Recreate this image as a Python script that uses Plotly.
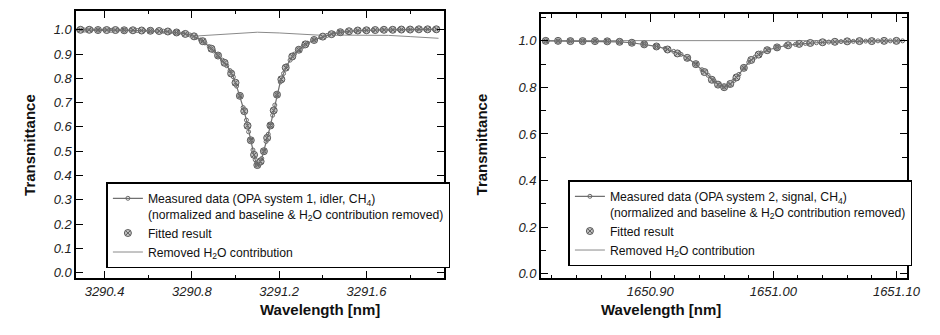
import plotly.graph_objects as go

# ---------------- Left panel data (OPA system 1, idler) ----------------
wl_meas_1 = [3290.28, 3290.31, 3290.34, 3290.37, 3290.40, 3290.43, 3290.46, 3290.49, 3290.52, 3290.55,
             3290.58, 3290.61, 3290.64, 3290.67, 3290.70, 3290.73, 3290.76, 3290.79, 3290.82, 3290.84,
             3290.86, 3290.88, 3290.90, 3290.92, 3290.94, 3290.96, 3290.975, 3290.99, 3291.005, 3291.02,
             3291.035, 3291.05, 3291.06, 3291.07, 3291.08, 3291.09, 3291.10, 3291.11, 3291.12, 3291.13,
             3291.14, 3291.15, 3291.16, 3291.17, 3291.18, 3291.19, 3291.205, 3291.22, 3291.235, 3291.25,
             3291.27, 3291.29, 3291.31, 3291.33, 3291.36, 3291.39, 3291.42, 3291.45, 3291.48, 3291.51,
             3291.55, 3291.59, 3291.63, 3291.67, 3291.71, 3291.75, 3291.79, 3291.83, 3291.87, 3291.91]
tr_meas_1 = [1.000, 0.999, 1.001, 0.999, 1.000, 0.998, 0.999, 0.998, 0.998, 0.997,
             0.997, 0.996, 0.995, 0.994, 0.992, 0.989, 0.985, 0.979, 0.969, 0.958,
             0.946, 0.931, 0.913, 0.894, 0.875, 0.852, 0.832, 0.806, 0.768, 0.728,
             0.680, 0.628, 0.580, 0.545, 0.505, 0.465, 0.443, 0.448, 0.470, 0.500,
             0.540, 0.570, 0.606, 0.648, 0.690, 0.733, 0.785, 0.820, 0.852, 0.875,
             0.900, 0.918, 0.932, 0.945, 0.958, 0.969, 0.977, 0.984, 0.990, 0.993,
             0.996, 0.998, 0.999, 1.000, 1.000, 1.001, 1.001, 1.002, 1.002, 1.002]

wl_fit_1 = [3290.29, 3290.33, 3290.37, 3290.41, 3290.45, 3290.49, 3290.53, 3290.57, 3290.61, 3290.65,
            3290.69, 3290.73, 3290.77, 3290.81, 3290.85, 3290.89, 3290.92, 3290.95, 3290.98, 3291.00,
            3291.02, 3291.04, 3291.055, 3291.07, 3291.085, 3291.10, 3291.115, 3291.13, 3291.145, 3291.16,
            3291.175, 3291.19, 3291.21, 3291.23, 3291.26, 3291.29, 3291.32, 3291.36, 3291.40, 3291.44,
            3291.48, 3291.52, 3291.56, 3291.60, 3291.64, 3291.68, 3291.72, 3291.76, 3291.80, 3291.84,
            3291.88, 3291.92]
tr_fit_1 = [1.000, 1.000, 0.999, 0.999, 0.999, 0.998, 0.998, 0.997, 0.996, 0.995,
            0.993, 0.989, 0.983, 0.973, 0.953, 0.922, 0.894, 0.864, 0.820, 0.782,
            0.728, 0.665, 0.605, 0.545, 0.485, 0.443, 0.458, 0.500, 0.555, 0.606,
            0.668, 0.733, 0.796, 0.844, 0.890, 0.918, 0.940, 0.958, 0.972, 0.982,
            0.990, 0.994, 0.997, 0.998, 0.999, 1.000, 1.000, 1.001, 1.001, 1.002,
            1.002, 1.002]

wl_h2o_1 = [3290.28, 3290.40, 3290.50, 3290.60, 3290.70, 3290.78, 3290.83, 3290.90, 3291.00,
            3291.10, 3291.20, 3291.30, 3291.40, 3291.50, 3291.60, 3291.70, 3291.80, 3291.93]
tr_h2o_1 = [1.000, 1.000, 0.998, 0.995, 0.988, 0.980, 0.975, 0.979, 0.985,
            0.990, 0.987, 0.981, 0.977, 0.978, 0.979, 0.977, 0.972, 0.965]

# ---------------- Right panel data (OPA system 2, signal) ----------------
wl_meas_2 = [1650.815, 1650.825, 1650.835, 1650.845, 1650.855, 1650.865, 1650.875, 1650.885, 1650.895, 1650.905,
             1650.912, 1650.919, 1650.925, 1650.931, 1650.937, 1650.942, 1650.947, 1650.952, 1650.956, 1650.960,
             1650.964, 1650.968, 1650.972, 1650.976, 1650.980, 1650.985, 1650.990, 1650.996, 1651.003, 1651.010,
             1651.018, 1651.026, 1651.035, 1651.045, 1651.055, 1651.065, 1651.075, 1651.085, 1651.095, 1651.105]
tr_meas_2 = [1.000, 0.999, 1.000, 0.999, 0.999, 0.998, 0.996, 0.992, 0.985, 0.976,
             0.967, 0.955, 0.942, 0.924, 0.900, 0.876, 0.852, 0.827, 0.810, 0.802,
             0.810, 0.830, 0.856, 0.884, 0.908, 0.930, 0.948, 0.962, 0.972, 0.980,
             0.985, 0.989, 0.992, 0.995, 0.997, 0.998, 0.999, 1.000, 1.000, 1.000]

wl_fit_2 = [1650.815, 1650.825, 1650.835, 1650.845, 1650.855, 1650.865, 1650.875, 1650.885, 1650.895, 1650.905,
            1650.914, 1650.922, 1650.930, 1650.937, 1650.944, 1650.950, 1650.955, 1650.960, 1650.965, 1650.970,
            1650.976, 1650.982, 1650.988, 1650.995, 1651.003, 1651.012, 1651.021, 1651.030, 1651.040, 1651.050,
            1651.060, 1651.070, 1651.080, 1651.090, 1651.100]
tr_fit_2 = [1.000, 1.000, 0.999, 0.999, 0.999, 0.998, 0.996, 0.992, 0.985, 0.976,
            0.963, 0.946, 0.927, 0.900, 0.866, 0.833, 0.812, 0.801, 0.815, 0.843,
            0.884, 0.918, 0.941, 0.960, 0.972, 0.981, 0.987, 0.991, 0.994, 0.996,
            0.998, 0.999, 0.999, 1.000, 1.000]

wl_h2o_2 = [1650.812, 1650.85, 1650.90, 1650.95, 1651.00, 1651.05, 1651.108]
tr_h2o_2 = [1.001, 1.001, 1.001, 1.001, 1.001, 1.001, 1.001]

name_meas_1 = "Measured data (OPA system 1, idler, CH<sub>4</sub>)<br>(normalized and baseline &amp; H<sub>2</sub>O contribution removed)"
name_meas_2 = "Measured data (OPA system 2, signal, CH<sub>4</sub>)<br>(normalized and baseline &amp; H<sub>2</sub>O contribution removed)"
name_fit = "Fitted result"
name_h2o = "Removed H<sub>2</sub>O contribution"

FIT_MARK = dict(symbol="circle-x", size=7, color="#c4c4c4", line=dict(color="#5a5a5a", width=1))
MEAS_LINE = dict(color="#707070", width=1.2)
MEAS_MARK = dict(symbol="circle-open", size=4, color="#6a6a6a", line=dict(width=1))
H2O_LINE = dict(color="#8a8a8a", width=1)

fig = go.Figure()

for (wm, tm, wf, tf, wh, th, nm, xa, ya, lg) in [
    (wl_meas_1, tr_meas_1, wl_fit_1, tr_fit_1, wl_h2o_1, tr_h2o_1, name_meas_1, "x", "y", "legend"),
    (wl_meas_2, tr_meas_2, wl_fit_2, tr_fit_2, wl_h2o_2, tr_h2o_2, name_meas_2, "x2", "y2", "legend2"),
]:
    fig.add_trace(go.Scatter(x=wh, y=th, mode="lines", line=H2O_LINE, name=name_h2o,
                             xaxis=xa, yaxis=ya, legend=lg, legendrank=3))
    fig.add_trace(go.Scatter(x=wf, y=tf, mode="markers", marker=FIT_MARK, name=name_fit,
                             xaxis=xa, yaxis=ya, legend=lg, legendrank=2))
    fig.add_trace(go.Scatter(x=wm, y=tm, mode="lines+markers", line=MEAS_LINE, marker=MEAS_MARK,
                             name=nm, xaxis=xa, yaxis=ya, legend=lg, legendrank=1))

W, H = 940, 335
tickfont = dict(family="Liberation Sans, Arial, sans-serif", size=13, color="#222", style="italic")
axis_common = dict(showline=True, linecolor="black", linewidth=1.5, mirror="ticks", ticks="inside",
                   tickcolor="black", tickwidth=1.2, showgrid=False, zeroline=False, tickfont=tickfont)

fig.update_layout(
    width=W, height=H, margin=dict(l=0, r=0, t=0, b=0),
    paper_bgcolor="white", plot_bgcolor="white",
    font=dict(family="Liberation Sans, Arial, sans-serif", color="#111"),
    xaxis=dict(domain=[77.3 / W, 450.7 / W], range=[3290.27, 3291.955], anchor="y",
               tick0=3290.4, dtick=0.4, tickformat=".1f", ticklen=8,
               minor=dict(dtick=0.2, tick0=3290.4, ticks="inside", ticklen=4, tickcolor="black"),
               **axis_common),
    yaxis=dict(domain=[1 - 281 / H, 1 - 10.7 / H], range=[-0.024, 1.079], anchor="x",
               tick0=0, dtick=0.1, tickformat=".1f", ticklen=7, **axis_common),
    xaxis2=dict(domain=[549 / W, 920.7 / W], range=[1650.811, 1651.1086], anchor="y2",
                tick0=1650.9, dtick=0.1, tickformat=".2f", ticklen=8,
                minor=dict(dtick=0.02, tick0=1650.9, ticks="inside", ticklen=4, tickcolor="black"),
                **axis_common),
    yaxis2=dict(domain=[1 - 281 / H, 1 - 14 / H], range=[-0.021, 1.116], anchor="x2",
                tick0=0, dtick=0.2, tickformat=".1f", ticklen=7,
                minor=dict(dtick=0.1, ticks="inside", ticklen=5, tickcolor="black"),
                **axis_common),
    legend=dict(x=108 / W, y=1 - 184 / H, xanchor="left", yanchor="top", bgcolor="white",
                bordercolor="black", borderwidth=1.5, valign="top", tracegroupgap=0,
                font=dict(size=12.2, color="#111"), traceorder="normal", itemwidth=30),
    legend2=dict(x=577 / W, y=1 - 182 / H, xanchor="left", yanchor="top", bgcolor="white",
                 bordercolor="black", borderwidth=1.5, valign="top", tracegroupgap=0,
                 font=dict(size=12.2, color="#111"), traceorder="normal", itemwidth=30),
    showlegend=True,
)

title_font = dict(family="Liberation Sans, Arial, sans-serif", size=15, color="#111", weight="bold")
fig.add_annotation(text="Transmittance", xref="paper", yref="paper", x=19 / W, y=1 - 146 / H,
                   textangle=-90, showarrow=False, font=title_font)
fig.add_annotation(text="Transmittance", xref="paper", yref="paper", x=489 / W, y=1 - 146 / H,
                   textangle=-90, showarrow=False, font=title_font)
fig.add_annotation(text="Wavelength [nm]", xref="paper", yref="paper", x=262 / W, y=1 - 323 / H,
                   showarrow=False, font=title_font)
fig.add_annotation(text="Wavelength [nm]", xref="paper", yref="paper", x=734 / W, y=1 - 323 / H,
                   showarrow=False, font=title_font)

fig.write_html("out.html")
